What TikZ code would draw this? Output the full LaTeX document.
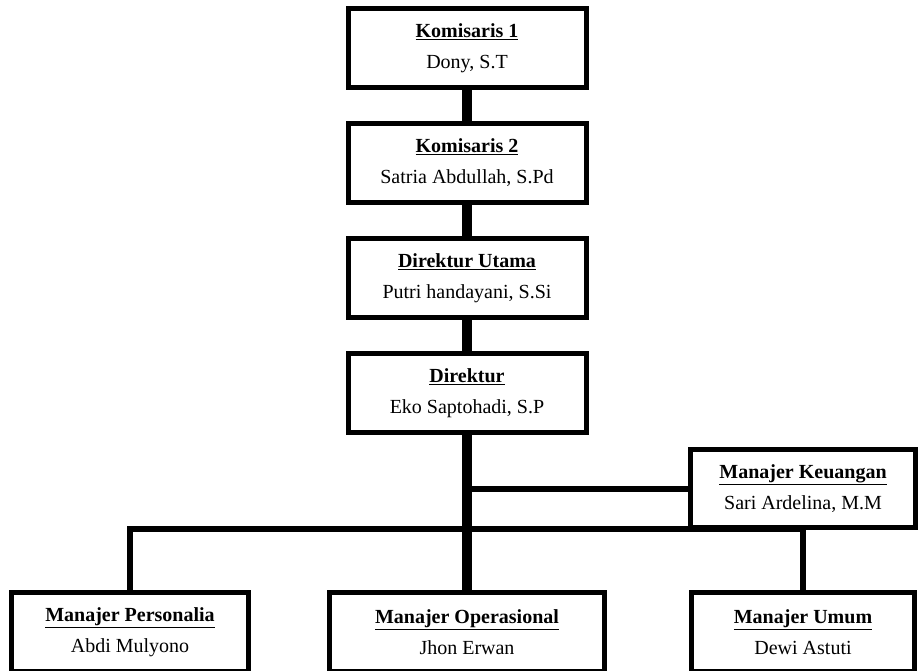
\documentclass[tikz,border=0pt]{standalone}
\usepackage{fontspec}
\setmainfont{Liberation Serif}
\usepackage{xcolor}
\usepackage{tikz}
\usetikzlibrary{positioning}

\newcommand{\jabatan}[2]{\underline{\textbf{#1}}\\#2}

\begin{document}
\begin{tikzpicture}[
    node distance=115pt,
    box/.style={rectangle, draw=black, line width=5pt,
                fill=white, minimum width=238pt,
                minimum height=79pt, align=center,
                inner sep=0pt,
                font=\fontsize{20}{31}\selectfont},
    trunk/.style={line width=10pt, color=black},
    branch/.style={line width=6pt, color=black}
]
\useasboundingbox (0,0) rectangle (920pt,-670pt);
\clip (0,0) rectangle (920pt,-670pt);

\node (kom1)  [box] at (467pt,-48pt)                   {\jabatan{Komisaris 1}{Dony, S.T}};
\node (kom2)  [box, below of=kom1]                     {\jabatan{Komisaris 2}{Satria Abdullah, S.Pd}};
\node (dirut) [box, below of=kom2]                     {\jabatan{Direktur Utama}{Putri handayani, S.Si}};
\node (dir)   [box, below of=dirut]                    {\jabatan{Direktur}{Eko Saptohadi, S.P}};

\node (keu)   [box, below of=dir, xshift=336pt,
               yshift=19.5pt, minimum width=225pt,
               minimum height=78pt]                    {\jabatan{Manajer Keuangan}{Sari Ardelina, M.M}};

\node (ops)   [box, below of=dir, node distance=239pt,
               minimum width=275pt]                    {\jabatan{Manajer Operasional}{Jhon Erwan}};
\node (pers)  [box, left of=ops, node distance=337pt,
               minimum width=237pt]                    {\jabatan{Manajer Personalia}{Abdi Mulyono}};
\node (umum)  [box, right of=ops, node distance=336pt,
               minimum width=223pt]                    {\jabatan{Manajer Umum}{Dewi Astuti}};

\draw [trunk]  (kom1)  -- (kom2);
\draw [trunk]  (kom2)  -- (dirut);
\draw [trunk]  (dirut) -- (dir);
\draw [trunk]  (dir)   -- (ops);
\draw [branch] (dir.south |- keu.west) -- (keu.west);
\draw [branch] (pers.north) -- ++(0,61pt) -| (umum.north);
\end{tikzpicture}
\end{document}
